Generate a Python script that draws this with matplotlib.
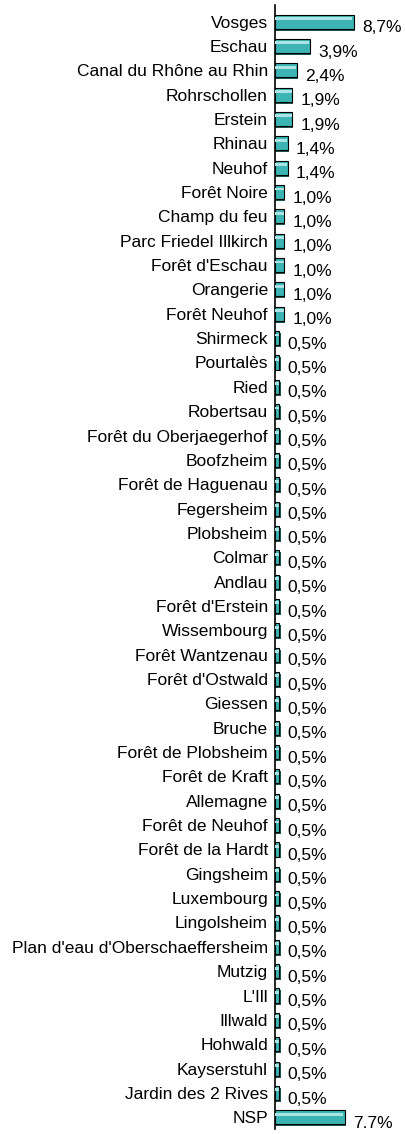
import matplotlib
matplotlib.use("Agg")
import matplotlib.pyplot as plt

plt.rcParams['font.family'] = ['Liberation Sans', 'DejaVu Sans']

# Places and shares (%)
places = [
    "Vosges", "Eschau", "Canal du Rhône au Rhin", "Rohrschollen", "Erstein",
    "Rhinau", "Neuhof", "Forêt Noire", "Champ du feu", "Parc Friedel Illkirch",
    "Forêt d'Eschau", "Orangerie", "Forêt Neuhof", "Shirmeck", "Pourtalès",
    "Ried", "Robertsau", "Forêt du Oberjaegerhof", "Boofzheim",
    "Forêt de Haguenau", "Fegersheim", "Plobsheim", "Colmar", "Andlau",
    "Forêt d'Erstein", "Wissembourg", "Forêt Wantzenau", "Forêt d'Ostwald",
    "Giessen", "Bruche", "Forêt de Plobsheim", "Forêt de Kraft", "Allemagne",
    "Forêt de Neuhof", "Forêt de la Hardt", "Gingsheim", "Luxembourg",
    "Lingolsheim", "Plan d'eau d'Oberschaeffersheim", "Mutzig", "L'Ill",
    "Illwald", "Hohwald", "Kayserstuhl", "Jardin des 2 Rives", "NSP",
]
shares = [8.7, 3.9, 2.4, 1.9, 1.9, 1.4, 1.4] + [1.0] * 6 + [0.5] * 32 + [7.7]
value_labels = ["8,7%", "3,9%", "2,4%", "1,9%", "1,9%", "1,4%", "1,4%"] \
    + ["1,0%"] * 6 + ["0,5%"] * 32 + ["7.7%"]

fig = plt.figure(figsize=(4.06, 11.34), dpi=100)
ax = fig.add_axes([0.677, 0.004, 0.224, 0.992])

y = list(range(len(places)))
h = 0.58
# shadow for the 3D look
ax.barh([v + 0.08 for v in y], [s + 0.12 for s in shares], height=h,
        left=0, color="#1d5656", edgecolor="none", zorder=1)
ax.barh(y, shares, height=h, color="#3cb4b4", edgecolor="black",
        linewidth=0.8, zorder=2)
# light highlight strip on top of each bar
ax.barh([v - h * 0.22 for v in y], [s * 0.97 for s in shares], height=h * 0.2,
        color="#a9e3e3", edgecolor="none", zorder=3)

for yi, s, lab in zip(y, shares, value_labels):
    ax.text(s + 0.9, yi + 0.25, lab, va="center", ha="left", fontsize=12.5)

ax.set_yticks(y)
ax.set_yticklabels(places, fontsize=12.5)
ax.tick_params(axis="y", length=0, pad=5)
ax.set_xticks([])
ax.set_xlim(0, 10)
ax.set_ylim(len(places) - 0.5, -0.7)
for side in ["top", "right", "bottom"]:
    ax.spines[side].set_visible(False)
ax.spines["left"].set_linewidth(1.2)

fig.savefig("out.png", dpi=100)
